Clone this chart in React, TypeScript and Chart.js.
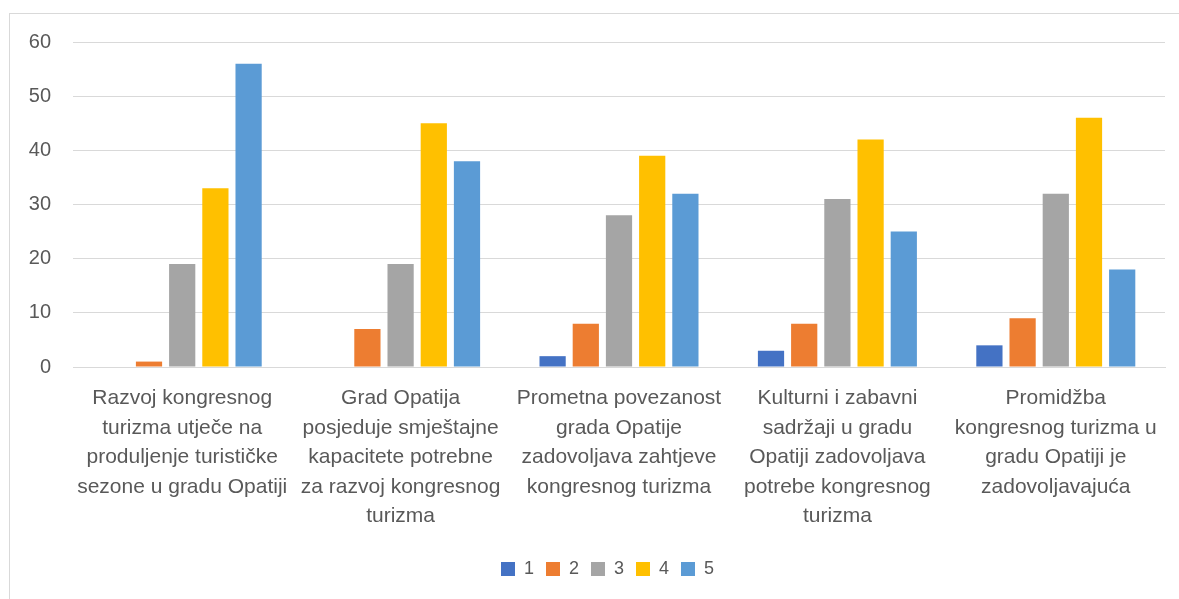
import React, { useEffect, useRef } from "react";
import { Chart, registerables } from "chart.js";

Chart.register(...registerables);

const categories: string[][] = [
  ["Razvoj kongresnog", "turizma utječe na", "produljenje turističke", "sezone u gradu Opatiji"],
  ["Grad Opatija", "posjeduje smještajne", "kapacitete potrebne", "za razvoj kongresnog", "turizma"],
  ["Prometna povezanost", "grada Opatije", "zadovoljava zahtjeve", "kongresnog turizma"],
  ["Kulturni i zabavni", "sadržaji u gradu", "Opatiji zadovoljava", "potrebe kongresnog", "turizma"],
  ["Promidžba", "kongresnog turizma u", "gradu Opatiji je", "zadovoljavajuća"],
];

const seriesNames = ["1", "2", "3", "4", "5"];
const series1 = [0, 0, 2, 3, 4];
const series2 = [1, 7, 8, 8, 9];
const series3 = [19, 19, 28, 31, 32];
const series4 = [33, 45, 39, 42, 46];
const series5 = [56, 38, 32, 25, 18];
const colors = ["#4472C4", "#ED7D31", "#A5A5A5", "#FFC000", "#5B9BD5"];

const FONT = "'Liberation Sans', Arial, sans-serif";

const shiftLegend = {
  id: "shiftLegend",
  afterLayout(chart: any) {
    const lg = chart.legend;
    if (lg) {
      lg.left += 20;
      lg.right += 20;
    }
  },
};

export default function App() {
  const ref = useRef<HTMLCanvasElement>(null);
  useEffect(() => {
    if (!ref.current) return;
    const all = [series1, series2, series3, series4, series5];
    const chart = new Chart(ref.current, {
      type: "bar",
      data: {
        labels: categories,
        datasets: all.map((d, i) => ({
          label: seriesNames[i],
          data: d,
          backgroundColor: colors[i],
          borderWidth: 0,
          categoryPercentage: 0.76,
          barPercentage: 0.79,
        })),
      },
      plugins: [shiftLegend],
      options: {
        animation: false,
        responsive: false,
        maintainAspectRatio: false,
        layout: { padding: { top: 0, right: 14, left: 0, bottom: 11 } },
        scales: {
          x: {
            grid: { display: false, drawTicks: false },
            border: { display: true, color: "#D9D9D9", width: 1 },
            ticks: {
              color: "#595959",
              font: { family: FONT, size: 21, lineHeight: 1.4 },
              padding: 17,
              maxRotation: 0,
              autoSkip: false,
            },
          },
          y: {
            min: 0,
            max: 60,
            afterFit: (s: any) => {
              s.width = 63;
            },
            grid: { color: "#D9D9D9", drawTicks: true, tickLength: 6, tickColor: "rgba(0,0,0,0)", lineWidth: 1 },
            border: { display: false },
            ticks: {
              stepSize: 10,
              color: "#595959",
              font: { family: FONT, size: 20 },
              padding: 16,
            },
          },
        },
        plugins: {
          legend: {
            position: "bottom",
            labels: {
              boxWidth: 14,
              boxHeight: 14,
              color: "#595959",
              font: { family: FONT, size: 18 },
              padding: 12,
            },
          },
          tooltip: { enabled: false },
        },
      },
    });
    return () => chart.destroy();
  }, []);

  return (
    <div style={{ position: "fixed", left: 0, top: 0, width: 1179, height: 599, background: "#fff", overflow: "hidden" }}>
      <div style={{ position: "absolute", left: 9, top: 13, width: 1200, height: 620, border: "1px solid #D9D9D9" }} />
      <canvas ref={ref} width={1169} height={585} style={{ position: "absolute", left: 10, top: 14, width: 1169, height: 585 }} />
    </div>
  );
}
